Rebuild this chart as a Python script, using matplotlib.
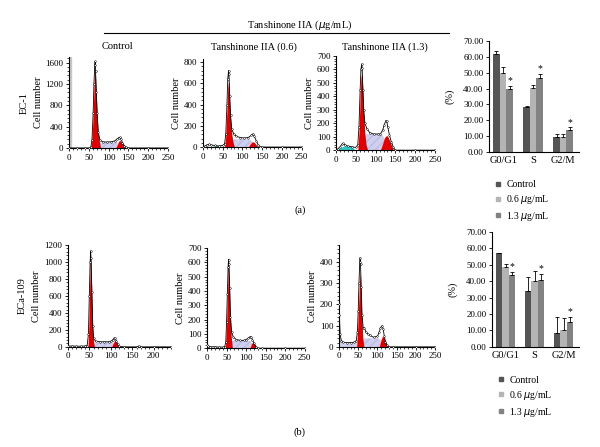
import numpy as np
import matplotlib
matplotlib.use('Agg')
import matplotlib.pyplot as plt
from matplotlib.ticker import MultipleLocator
from matplotlib.lines import Line2D

plt.rcParams['font.family'] = ['Liberation Serif', 'DejaVu Serif']
plt.rcParams['font.size'] = 6

# ---- histogram data ----
# top row, EC-1
p1_x = [0, 20, 40, 50, 55, 58, 61, 63, 65, 66, 67, 69, 71, 74, 78, 85, 95, 105, 115, 120, 125, 128, 131, 135, 140, 145, 150, 200, 250]
p1_y = [0, 0, 0, 0, 10, 150, 650, 1200, 1550, 1620, 1450, 1050, 650, 300, 150, 115, 110, 115, 130, 160, 190, 200, 170, 100, 40, 10, 0, 0, 0]
p1_g1_x = [55, 58, 61, 63, 65, 66, 67, 69, 71, 73, 76, 80]
p1_g1_y = [0, 150, 600, 1100, 1400, 1450, 1350, 1000, 650, 350, 150, 0]
p1_s_x = [66, 72, 78, 100, 120, 128, 134]
p1_s_y = [0, 80, 100, 100, 100, 80, 0]
p1_g2_x = [118, 122, 126, 129, 133, 138, 143]
p1_g2_y = [0, 60, 130, 140, 110, 50, 0]

p2_x = [0, 5, 10, 15, 20, 30, 40, 50, 55, 58, 61, 63, 65, 66, 68, 70, 73, 78, 85, 95, 105, 115, 122, 127, 130, 135, 140, 145, 150, 200, 250]
p2_y = [0, 10, 20, 25, 20, 15, 10, 15, 30, 120, 400, 640, 720, 690, 480, 300, 170, 125, 100, 90, 85, 90, 110, 125, 100, 60, 20, 5, 0, 0, 0]
p2_sub_x = [20, 25, 30, 35, 40, 45, 50]
p2_sub_y = [0, 8, 12, 14, 12, 8, 0]
p2_g1_x = [55, 58, 61, 63, 65, 66, 68, 70, 73, 76, 80]
p2_g1_y = [0, 100, 350, 560, 620, 600, 430, 280, 130, 50, 0]
p2_s_x = [68, 72, 78, 100, 115, 122, 130, 135]
p2_s_y = [0, 50, 70, 75, 70, 60, 30, 0]
p2_g2_x = [115, 120, 125, 130, 135, 140]
p2_g2_y = [0, 30, 50, 45, 20, 0]

p3_x = [0, 5, 10, 15, 18, 22, 30, 40, 50, 55, 58, 61, 63, 65, 66, 68, 70, 73, 78, 85, 95, 105, 112, 118, 122, 126, 128, 131, 135, 140, 145, 150, 200, 250]
p3_y = [0, 10, 25, 45, 50, 40, 30, 25, 20, 40, 170, 450, 600, 640, 610, 450, 300, 200, 160, 130, 120, 120, 120, 150, 190, 220, 215, 170, 110, 60, 20, 0, 0, 0]
p3_sub_x = [5, 10, 15, 20, 25, 30, 35, 40, 45, 50]
p3_sub_y = [0, 15, 25, 30, 32, 30, 27, 22, 12, 0]
p3_g1_x = [55, 58, 61, 63, 65, 66, 68, 70, 73, 76, 80]
p3_g1_y = [0, 130, 400, 540, 570, 555, 420, 270, 120, 40, 0]
p3_s_x = [65, 70, 75, 80, 110, 118, 125, 130]
p3_s_y = [0, 80, 115, 120, 120, 110, 70, 0]
p3_g2_x = [112, 118, 123, 128, 132, 137, 142, 146]
p3_g2_y = [0, 50, 95, 110, 95, 60, 20, 0]

# bottom row, ECa-109
p4_x = [0, 10, 20, 30, 40, 45, 48, 50, 52, 53, 54, 56, 58, 60, 65, 75, 85, 95, 100, 104, 107, 110, 113, 116, 120, 130, 160, 165, 170, 200, 240]
p4_y = [10, 10, 8, 8, 10, 15, 150, 600, 1000, 1130, 1050, 650, 250, 100, 65, 60, 60, 60, 65, 80, 100, 105, 70, 30, 5, 0, 0, 10, 0, 0, 0]
p4_g1_x = [47, 49, 51, 53, 54, 56, 58, 60, 62]
p4_g1_y = [0, 250, 750, 1050, 980, 600, 220, 60, 0]
p4_s_x = [55, 60, 65, 100, 105, 110, 112]
p4_s_y = [0, 40, 50, 55, 50, 25, 0]
p4_g2_x = [102, 106, 109, 111, 114, 118]
p4_g2_y = [0, 45, 75, 80, 40, 0]

p5_x = [0, 3, 8, 20, 30, 40, 45, 48, 50, 52, 54, 55, 56, 58, 60, 63, 67, 75, 85, 95, 100, 105, 110, 113, 116, 120, 125, 130, 140, 200, 250]
p5_y = [25, 15, 10, 10, 8, 8, 10, 40, 180, 380, 570, 620, 590, 420, 220, 110, 80, 60, 55, 55, 60, 70, 80, 80, 60, 35, 10, 0, 0, 0, 0]
p5_sub_x = [0, 3, 10, 45, 48]
p5_sub_y = [20, 12, 8, 8, 0]
p5_g1_x = [47, 50, 52, 54, 55, 57, 59, 62, 65]
p5_g1_y = [0, 150, 350, 540, 600, 480, 280, 80, 0]
p5_s_x = [56, 62, 70, 100, 110, 116, 120]
p5_s_y = [0, 45, 55, 55, 50, 30, 0]
p5_g2_x = [110, 114, 118, 122, 126, 130]
p5_g2_y = [0, 35, 40, 30, 12, 0]

p6_x = [0, 1, 3, 6, 10, 20, 30, 40, 45, 48, 50, 52, 54, 55, 56, 58, 60, 63, 66, 70, 75, 80, 90, 100, 105, 108, 112, 115, 118, 121, 125, 130, 140, 200, 250]
p6_y = [200, 150, 60, 30, 22, 20, 20, 22, 30, 70, 170, 300, 400, 420, 390, 280, 150, 90, 90, 70, 60, 55, 45, 50, 70, 90, 100, 85, 50, 25, 8, 0, 0, 0, 0]
p6_sub_x = [0, 1, 3, 6, 10, 30, 45, 50]
p6_sub_y = [150, 100, 45, 25, 18, 18, 20, 0]
p6_g1_x = [46, 49, 52, 54, 55, 57, 59, 62, 65]
p6_g1_y = [0, 100, 240, 330, 350, 280, 160, 40, 0]
p6_s_x = [52, 58, 65, 100, 108, 112, 115]
p6_s_y = [0, 35, 40, 40, 35, 20, 0]
p6_g2_x = [105, 109, 113, 117, 121, 125, 128]
p6_g2_y = [0, 30, 50, 45, 25, 8, 0]

# ---- bar chart data ----
phases = ['G0/G1', 'S', 'G2/M']
groups = ['Control', '0.6 $\\mu$g/mL', '1.3 $\\mu$g/mL']
a_means = [[62.0, 28.5, 9.5], [50.0, 40.5, 9.5], [39.5, 46.5, 14.0]]
a_errs = [[1.5, 0.5, 2.0], [3.5, 2.0, 2.0], [2.0, 2.5, 1.5]]
b_means = [[57.0, 34.0, 8.5], [48.5, 40.0, 10.5], [43.5, 40.5, 15.0]]
b_errs = [[0.5, 8.5, 9.5], [2.0, 6.0, 7.0], [2.0, 4.0, 3.5]]
bar_colors = ['#555555', '#b4b4b4', '#828282']

RED = '#e00000'
LAV = '#cfd0f0'
CYAN = '#2ec8c8'

fig = plt.figure(figsize=(6, 4.47), dpi=100)


def hist_panel(rect, x, y, g1, s, g2, ylim, ystep, xmax=250, sub=None, subcolor=CYAN, xlabels=None):
    ax = fig.add_axes(rect)
    if sub is not None:
        ax.fill_between(sub[0], sub[1], color=subcolor, lw=0, zorder=1)
    ax.fill_between(s[0], s[1], color=LAV, lw=0, hatch='////', edgecolor='#bcbce2', zorder=1)
    ax.fill_between(g1[0], g1[1], color=RED, lw=0, zorder=2)
    ax.fill_between(g2[0], g2[1], color=RED, lw=0, zorder=2)
    ax.plot(x, y, color='black', lw=0.6, marker='o', ms=1.2, mfc='white', mec='black', mew=0.35, zorder=3)
    ax.set_xlim(0, xmax)
    ax.set_ylim(0, ylim)
    ax.set_xticks(xlabels if xlabels is not None else [0, 50, 100, 150, 200, 250])
    ax.xaxis.set_minor_locator(MultipleLocator(10))
    ax.yaxis.set_major_locator(MultipleLocator(ystep))
    ax.yaxis.set_minor_locator(MultipleLocator(ystep / 5))
    for sp in ['top', 'right']:
        ax.spines[sp].set_visible(False)
    for sp in ['left', 'bottom']:
        ax.spines[sp].set_linewidth(0.8)
    ax.tick_params(which='major', length=2, width=0.6, pad=2, labelsize=6.5)
    ax.tick_params(which='minor', length=1.2, width=0.5)
    ax.set_ylabel('Cell number', fontsize=7.5, labelpad=2)
    return ax


def bar_panel(rect, means, errs):
    ax = fig.add_axes(rect)
    xs = np.arange(len(phases))
    w = 0.22
    for i in range(3):
        pos = xs + (i - 1) * w
        ax.bar(pos, means[i], w, color=bar_colors[i], zorder=2)
        ax.errorbar(pos, means[i], yerr=[np.zeros(3), errs[i]], fmt='none', ecolor='black',
                    elinewidth=0.6, capsize=1.5, capthick=0.6, zorder=3)
        if i == 2:
            for p, m, e in zip(pos, means[i], errs[i]):
                ax.text(p, m + e + 0.5, '*', ha='center', va='bottom', fontsize=7)
    ax.set_xlim(-0.47, 2.53)
    ax.set_ylim(0, 70)
    ax.set_yticks(np.arange(0, 71, 10))
    ax.set_yticklabels(['%.2f' % v for v in np.arange(0, 71, 10)])
    ax.set_xticks(xs)
    ax.set_xticklabels(phases, fontsize=7.5)
    for sp in ['top', 'right']:
        ax.spines[sp].set_visible(False)
    ax.spines['left'].set_linewidth(0.8)
    ax.spines['bottom'].set_linewidth(0.8)
    ax.tick_params(axis='y', length=2, width=0.6, pad=2, labelsize=6.5)
    ax.tick_params(axis='x', length=0, pad=3)
    ax.set_ylabel('(%)', fontsize=7.5, labelpad=6)
    handles = [Line2D([], [], ls='none', marker='s', ms=3, color=c) for c in bar_colors]
    ax.legend(handles, groups, loc='upper left', bbox_to_anchor=(0.0, -0.21), frameon=False,
              fontsize=7, handlelength=0.8, handletextpad=0.5, labelspacing=0.4, borderpad=0)
    return ax


# top row
ax1 = hist_panel([0.115, 0.669, 0.165, 0.203], p1_x, p1_y, (p1_g1_x, p1_g1_y), (p1_s_x, p1_s_y),
                 (p1_g2_x, p1_g2_y), 1700, 400)
ax1.axvspan(0, 4, color='#c8c8c8', zorder=0)
ax1.text(-0.45, 0.5, 'EC-1', transform=ax1.transAxes, rotation=90, ha='center', va='center', fontsize=7.5)
hist_panel([0.338, 0.671, 0.165, 0.197], p2_x, p2_y, (p2_g1_x, p2_g1_y), (p2_s_x, p2_s_y),
           (p2_g2_x, p2_g2_y), 830, 200, sub=(p2_sub_x, p2_sub_y), subcolor='#2a9f9f')
hist_panel([0.56, 0.664, 0.165, 0.211], p3_x, p3_y, (p3_g1_x, p3_g1_y), (p3_s_x, p3_s_y),
           (p3_g2_x, p3_g2_y), 700, 100, sub=(p3_sub_x, p3_sub_y))
bar_panel([0.815, 0.66, 0.15, 0.248], a_means, a_errs)

# bottom row
ax4 = hist_panel([0.113, 0.224, 0.172, 0.228], p4_x, p4_y, (p4_g1_x, p4_g1_y), (p4_s_x, p4_s_y),
                 (p4_g2_x, p4_g2_y), 1200, 200, xmax=240, xlabels=[0, 50, 100, 150, 200])
ax4.text(-0.44, 0.5, 'ECa-109', transform=ax4.transAxes, rotation=90, ha='center', va='center', fontsize=7.5)
hist_panel([0.345, 0.221, 0.163, 0.224], p5_x, p5_y, (p5_g1_x, p5_g1_y), (p5_s_x, p5_s_y),
           (p5_g2_x, p5_g2_y), 700, 100, sub=(p5_sub_x, p5_sub_y), subcolor=LAV)
hist_panel([0.565, 0.224, 0.16, 0.228], p6_x, p6_y, (p6_g1_x, p6_g1_y), (p6_s_x, p6_s_y),
           (p6_g2_x, p6_g2_y), 480, 100, sub=(p6_sub_x, p6_sub_y), subcolor=LAV)
bar_panel([0.82, 0.224, 0.145, 0.257], b_means, b_errs)

# headers
fig.text(0.5, 0.944, 'Tanshinone IIA ($\\mu$g/mL)', ha='center', va='center', fontsize=7.5)
fig.add_artist(Line2D([0.173, 0.748], [0.926, 0.926], color='black', lw=0.8))
fig.text(0.195, 0.895, 'Control', ha='center', va='center', fontsize=7.5)
fig.text(0.423, 0.895, 'Tanshinone IIA (0.6)', ha='center', va='center', fontsize=7.5)
fig.text(0.642, 0.895, 'Tanshinone IIA (1.3)', ha='center', va='center', fontsize=7.5)
fig.text(0.5, 0.53, '(a)', ha='center', va='center', fontsize=7.5)
fig.text(0.5, 0.034, '(b)', ha='center', va='center', fontsize=7.5)

fig.savefig('out.png', dpi=100)
